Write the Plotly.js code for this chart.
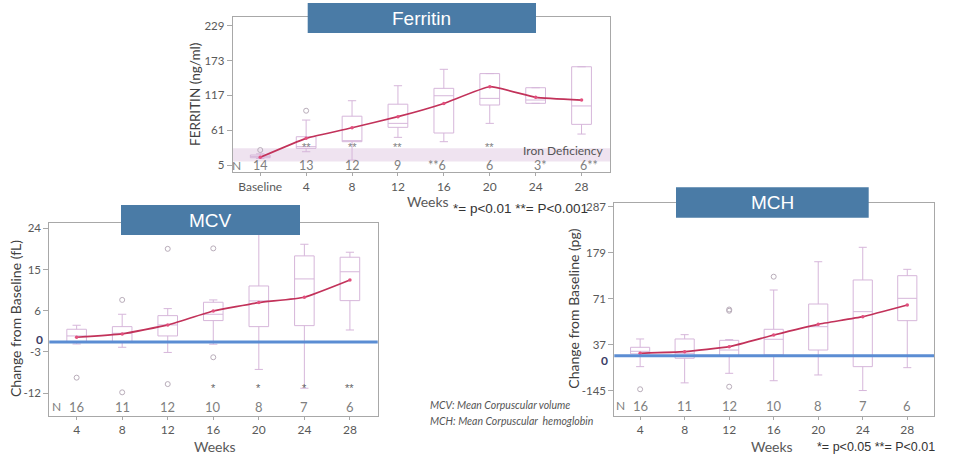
<!DOCTYPE html>
<html>
<head>
<meta charset="utf-8">
<script src="https://cdn.plot.ly/plotly-3.0.1.min.js"></script>
<style>html,body{margin:0;padding:0;background:#fff;}#chart{width:971px;height:464px;}</style>
</head>
<body>
<div id="chart"></div>
<script>
// ---------- Ferritin ----------
const ferWeeks = ["Baseline","4","8","12","16","20","24","28"];
const ferQ1     = [16.7, 31.8, 42.5, 65.6, 56.5, 101.5, 104.2, 70.4];
const ferMedian = [18.5, 34.5, 44.0, 72.0, 116.4, 112.2, 109.5, 100.0];
const ferQ3     = [21.1, 50.5, 83.5, 102.8, 128.3, 152.0, 129.3, 163.0];
const ferLow    = [15.5, 26.4, 13.0, 49.5, 42.5, 72.0, 104.2, 54.8];
const ferHigh   = [23.0, 77.3, 108.4, 132.5, 158.9, 152.0, 129.3, 163.0];
const ferMean   = [17.4, 47.9, 65.0, 82.7, 104.0, 130.9, 113.8, 109.5];
const ferOutX   = [0, 1];
const ferOutY   = [29.1, 92.3];
const ferN      = ["14","13","12","9","**6","6","3*","6**"];
const ferStars  = ["", "**", "**", "**", "", "**", "", ""];
const ferTicks  = [5, 61, 117, 173, 229];
const ironBand  = [10.5, 32];

// ---------- MCV ----------
const mcvWeeks  = ["4","8","12","16","20","24","28"];
const mcvQ1     = [-0.74, -0.74, 0.5, 3.85, 2.53, 2.75, 8.2];
const mcvMedian = [0.5, 1.08, 2.9, 5.23, 8.14, 12.94, 14.5];
const mcvQ3     = [1.96, 2.53, 4.93, 7.85, 11.4, 17.96, 17.67];
const mcvLow    = [-1.25, -1.97, -3.1, -1.3, -6.8, -10.9, 1.8];
const mcvHigh   = [2.83, 5.23, 6.46, 8.36, 26, 20.5, 18.76];
const mcvMean   = [0.22, 0.94, 2.9, 5.95, 7.77, 8.94, 12.7];
const mcvOutX   = [0, 1, 1, 2, 2, 3, 3];
const mcvOutY   = [-8.6, 8.36, -11.8, 19.5, -10.0, 19.6, -4.15];
const mcvN      = ["16","11","12","10","8","7","6"];
const mcvStars  = ["", "", "", "*", "*", "*", "**"];
const mcvTicks  = [-12, -3, 6, 15, 24];
const mcvZero   = -0.8;

// ---------- MCH ----------
const mchWeeks  = ["4","8","12","16","20","24","28"];
const mchQ1     = [-58, -68.4, -62, -60.6, -49, -88, 19.8];
const mchMedian = [-52, -56.7, -49, -23.8, 5.7, 40.9, 72.2];
const mchQ3     = [-42.6, -23.1, -26.3, -0.4, 58.9, 115.2, 125.3];
const mchLow    = [-88, -126, -103.6, -121, -107.5, -144, -90.4];
const mchHigh   = [-23.1, -13, -24.7, 91.7, 158, 191.8, 140.2];
const mchMean   = [-56.7, -52.9, -41.2, -13.8, 11.3, 29.2, 56.6];
const mchOutX   = [0, 2, 2, 2, 3];
const mchOutY   = [-141, 43, 46, -135, 122.9];
const mchN      = ["16","11","12","10","8","7","6"];
const mchTickVals = [-145, -37, 71, 179, 287];
const mchTickText = ["-145", "37", "71", "179", "287"];
const mchZero   = -62.3;

// ---------- helpers ----------
const W = 971, H = 464;
const PX = p => p / W;
const PY = p => 1 - p / H;
const idx = a => a.map((_, i) => i);

const BOX_LINE = '#d6b6da';
const MEAN_LINE = '#c2325a';
const OUT_COL = '#b9adba';
const FRAME = '#a8a8a8';
const TICKCOL = '#595959';
const FONT = 'Lato, "Open Sans", sans-serif';
const SANS = '"Liberation Sans", Arial, sans-serif';

function boxTrace(xa, ya, q1, med, q3, lo, hi) {
  return {
    type: 'box', xaxis: xa, yaxis: ya, x: idx(q1),
    q1: q1, median: med, q3: q3, lowerfence: lo, upperfence: hi,
    width: 0.43, whiskerwidth: 0.42, boxpoints: false,
    line: {color: BOX_LINE, width: 1}, fillcolor: 'rgba(255,255,255,0)',
    hoverinfo: 'skip', showlegend: false
  };
}
function meanTrace(xa, ya, m) {
  return {
    type: 'scatter', mode: 'lines+markers', xaxis: xa, yaxis: ya,
    x: idx(m), y: m,
    line: {color: MEAN_LINE, width: 1.7, shape: 'spline', smoothing: 0.4},
    marker: {size: 3.5, color: '#e2507e'}, showlegend: false, hoverinfo: 'skip'
  };
}
function outTrace(xa, ya, xs, ys) {
  return {
    type: 'scatter', mode: 'markers', xaxis: xa, yaxis: ya, x: xs, y: ys,
    marker: {symbol: 'circle-open', size: 5, color: OUT_COL, line: {width: 1, color: OUT_COL}},
    showlegend: false, hoverinfo: 'skip'
  };
}

const data = [
  boxTrace('x', 'y', ferQ1, ferMedian, ferQ3, ferLow, ferHigh),
  outTrace('x', 'y', ferOutX, ferOutY),
  meanTrace('x', 'y', ferMean),
  boxTrace('x2', 'y2', mcvQ1, mcvMedian, mcvQ3, mcvLow, mcvHigh),
  outTrace('x2', 'y2', mcvOutX, mcvOutY),
  meanTrace('x2', 'y2', mcvMean),
  boxTrace('x3', 'y3', mchQ1, mchMedian, mchQ3, mchLow, mchHigh),
  outTrace('x3', 'y3', mchOutX, mchOutY),
  meanTrace('x3', 'y3', mchMean)
];

function xAxis(domain, range, labels, anchor) {
  return {
    domain: domain, range: range, anchor: anchor,
    tickmode: 'array', tickvals: idx(labels), ticktext: labels,
    showline: true, mirror: true, linecolor: FRAME, linewidth: 1,
    ticks: 'outside', ticklen: 3, tickcolor: FRAME,
    showgrid: false, zeroline: false,
    tickfont: {family: FONT, size: 12, color: TICKCOL}
  };
}
function yAxis(domain, range, vals, text, anchor) {
  return {
    domain: domain, range: range, anchor: anchor,
    tickmode: 'array', tickvals: vals, ticktext: text,
    showline: true, mirror: true, linecolor: FRAME, linewidth: 1,
    ticks: 'outside', ticklen: 5, tickcolor: FRAME,
    showgrid: false, zeroline: false,
    tickfont: {family: FONT, size: 11.5, color: TICKCOL}
  };
}

const annotations = [];
function ann(o) { annotations.push(Object.assign({showarrow: false}, o)); }

// title boxes
const shapes = [];
function titleBox(x0, x1, y0, y1, text) {
  shapes.push({type: 'rect', xref: 'paper', yref: 'paper', x0: PX(x0), x1: PX(x1), y0: PY(y1), y1: PY(y0),
    fillcolor: '#4a7ba6', line: {width: 0}, layer: 'above'});
  ann({xref: 'paper', yref: 'paper', x: PX((x0 + x1) / 2), y: PY((y0 + y1) / 2), xanchor: 'center', yanchor: 'middle',
    text: text, font: {family: SANS, size: 19, color: '#ffffff'}});
}
titleBox(307.7, 536, 3, 33, 'Ferritin');
titleBox(121, 300, 205, 235, 'MCV');
titleBox(676, 868.7, 187.3, 217.7, 'MCH');

// Ferritin iron deficiency band
shapes.push({type: 'rect', xref: 'x domain', yref: 'y', x0: 0, x1: 1, y0: ironBand[0], y1: ironBand[1],
  fillcolor: '#efe3f0', line: {width: 0}, layer: 'below'});
ann({xref: 'x domain', yref: 'y', x: 0.99, y: 28, xanchor: 'right', yanchor: 'middle',
  text: 'Iron Deficiency', font: {family: FONT, size: 12, color: '#555555'}});

// blue zero lines
shapes.push({type: 'line', xref: 'x2 domain', yref: 'y2', x0: 0, x1: 1, y0: mcvZero, y1: mcvZero,
  line: {color: '#5b8dd3', width: 3}, layer: 'above'});
shapes.push({type: 'line', xref: 'x3 domain', yref: 'y3', x0: 0, x1: 1, y0: mchZero, y1: mchZero,
  line: {color: '#5b8dd3', width: 3}, layer: 'above'});

// N rows
function nRow(xr, yr, labels, yv, nx, fs) {
  ann({xref: xr, yref: yr, x: nx, y: yv, xanchor: 'center', yanchor: 'middle', text: 'N',
    font: {family: FONT, size: 12, color: '#7f7f7f'}});
  labels.forEach((t, i) => {
    let xa = 'center', xs = 0;
    if (t.startsWith('*')) { xa = 'right'; xs = 4; }
    else if (t.endsWith('*')) { xa = 'left'; xs = -4; }
    ann({xref: xr, yref: yr, x: i, y: yv, xanchor: xa, xshift: xs, yanchor: 'middle', text: t,
      font: {family: FONT, size: fs, color: '#7f7f7f'}});
  });
}
nRow('x', 'y', ferN, 5, -0.52, 12.5);
nRow('x2', 'y2', mcvN, -14.9, -0.45, 13);
nRow('x3', 'y3', mchN, -180, -0.45, 13);

// significance stars
ferStars.forEach((s, i) => { if (s) ann({xref: 'x', yref: 'y', x: i, y: 34.5, text: s, xanchor: 'center', yanchor: 'middle',
  font: {family: SANS, size: 11, color: '#7f7f7f'}}); });
mcvStars.forEach((s, i) => { if (s) ann({xref: 'x2', yref: 'y2', x: i, y: -10.8, text: s, xanchor: 'center', yanchor: 'middle',
  font: {family: SANS, size: 11, color: '#666666'}}); });

// zero labels
ann({xref: 'paper', yref: 'y2', x: PX(39.3), y: -0.2, text: '<b>0</b>', xanchor: 'center', yanchor: 'middle',
  font: {family: FONT, size: 12, color: '#3b3b66'}});
ann({xref: 'paper', yref: 'y3', x: PX(604.3), y: -72.4, text: '<b>0</b>', xanchor: 'center', yanchor: 'middle',
  font: {family: FONT, size: 12, color: '#3b3b66'}});

// axis titles
ann({xref: 'paper', yref: 'paper', x: PX(195), y: PY(95), text: 'FERRITIN (ng/ml)', textangle: -90,
  xanchor: 'center', yanchor: 'middle', font: {family: FONT, size: 13.5, color: '#404040'}});
ann({xref: 'paper', yref: 'paper', x: PX(15), y: PY(319), text: 'Change from Baseline (fL)', textangle: -90,
  xanchor: 'center', yanchor: 'middle', font: {family: FONT, size: 14, color: '#404040'}});
ann({xref: 'paper', yref: 'paper', x: PX(572.7), y: PY(309), text: 'Change from Baseline (pg)', textangle: -90,
  xanchor: 'center', yanchor: 'middle', font: {family: FONT, size: 14, color: '#404040'}});
ann({xref: 'paper', yref: 'paper', x: PX(428), y: PY(202), text: 'Weeks', xanchor: 'center', yanchor: 'middle',
  font: {family: FONT, size: 14, color: '#595959'}});
ann({xref: 'paper', yref: 'paper', x: PX(215), y: PY(446), text: 'Weeks', xanchor: 'center', yanchor: 'middle',
  font: {family: FONT, size: 14, color: '#595959'}});
ann({xref: 'paper', yref: 'paper', x: PX(771.7), y: PY(446), text: 'Weeks', xanchor: 'center', yanchor: 'middle',
  font: {family: FONT, size: 14, color: '#595959'}});

// footnotes
ann({xref: 'paper', yref: 'paper', x: PX(451), y: PY(208), text: '*= p<0.01 **= P<0.001', xanchor: 'left', yanchor: 'middle',
  font: {family: SANS, size: 13.5, color: '#333333'}});
ann({xref: 'paper', yref: 'paper', x: PX(815), y: PY(446.7), text: '*= p<0.05 **= P<0.01', xanchor: 'left', yanchor: 'middle',
  font: {family: SANS, size: 12.5, color: '#333333'}});
ann({xref: 'paper', yref: 'paper', x: PX(428), y: PY(405), text: '<i>MCV: Mean Corpuscular volume</i>', xanchor: 'left', yanchor: 'middle',
  font: {family: FONT, size: 10.5, color: '#555555'}});
ann({xref: 'paper', yref: 'paper', x: PX(428), y: PY(420.7), text: '<i>MCH: Mean Corpuscular  hemoglobin</i>', xanchor: 'left', yanchor: 'middle',
  font: {family: FONT, size: 10.5, color: '#555555'}});

const layout = {
  width: W, height: H,
  margin: {l: 0, r: 0, t: 0, b: 0, pad: 0},
  paper_bgcolor: '#ffffff', plot_bgcolor: '#ffffff',
  showlegend: false,
  xaxis:  xAxis([PX(232.7), PX(610)], [-0.6, 7.62], ferWeeks, 'y'),
  yaxis:  yAxis([PY(172.3), PY(16.7)], [-6.7, 243.5], ferTicks, ferTicks.map(String), 'x'),
  xaxis2: xAxis([PX(49.3), PX(377.7)], [-0.6, 6.61], mcvWeeks, 'y2'),
  yaxis2: yAxis([PY(416), PY(222.7)], [-16.96, 25.2], mcvTicks, mcvTicks.map(String), 'x2'),
  xaxis3: xAxis([PX(614.3), PX(934)], [-0.58, 6.6], mchWeeks, 'y3'),
  yaxis3: yAxis([PY(415.7), PY(202.7)], [-203, 296.4], mchTickVals, mchTickText, 'x3'),
  shapes: shapes,
  annotations: annotations
};

Plotly.newPlot('chart', data, layout, {staticPlot: true, displayModeBar: false});
</script>
</body>
</html>
